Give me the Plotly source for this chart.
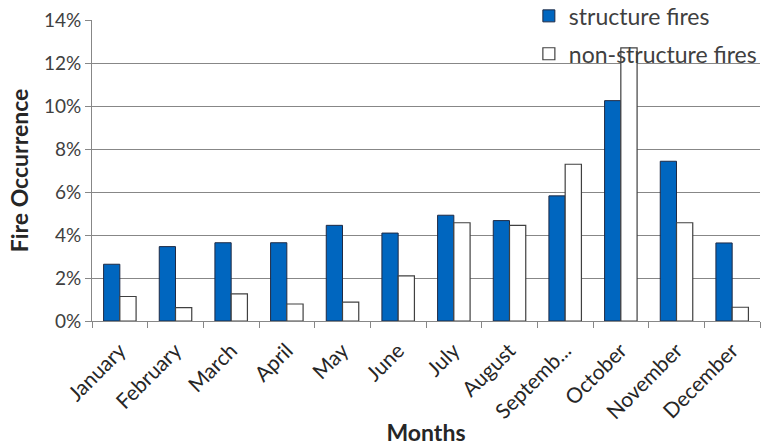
import plotly.graph_objects as go

# Monthly share of fire occurrences
months = ["January", "February", "March", "April", "May", "June", "July",
          "August", "Septemb...", "October", "November", "December"]
structure_fires = [0.0264, 0.0346, 0.0364, 0.0364, 0.0445, 0.0409, 0.0492,
                   0.0467, 0.0582, 0.1025, 0.0743, 0.0363]
non_structure_fires = [0.0114, 0.0062, 0.0126, 0.0079, 0.0088, 0.0210, 0.0457,
                       0.0445, 0.0729, 0.1270, 0.0457, 0.0064]

y_ticks = [0, 0.02, 0.04, 0.06, 0.08, 0.10, 0.12, 0.14]
y_labels = ["0%", "2%", "4%", "6%", "8%", "10%", "12%", "14%"]

FONT = "Lato, Carlito, Calibri, sans-serif"

fig = go.Figure()
fig.add_trace(go.Bar(
    x=months, y=structure_fires, name="structure fires",
    legendgroup="a",
    marker=dict(color="#0066BF", line=dict(color="#1F2A44", width=1)),
))
fig.add_trace(go.Bar(
    x=months, y=non_structure_fires, name="non-structure fires",
    legendgroup="b",
    marker=dict(color="#FFFFFF", line=dict(color="#404040", width=1.2)),
))

fig.update_layout(
    width=762, height=446,
    margin=dict(l=92, r=2, t=20, b=125, autoexpand=False),
    paper_bgcolor="white", plot_bgcolor="white",
    barmode="group", bargap=0.416, bargroupgap=0,
    font=dict(family=FONT, size=19, color="#404040"),
    legend=dict(
        x=0.654, y=1.085, xanchor="left", yanchor="top",
        bgcolor="rgba(0,0,0,0)", traceorder="grouped", tracegroupgap=5,
        font=dict(family=FONT, size=23, color="#404040"),
    ),
    xaxis=dict(
        type="category", tickangle=-45, tickson="boundaries",
        ticks="outside", ticklen=6, tickcolor="#878787",
        ticklabelstandoff=8,
        showline=True, linecolor="#878787", linewidth=1,
        tickfont=dict(size=21, color="#262626"),
        title=dict(text="<b>Months</b>", standoff=2,
                   font=dict(size=23, color="#262626")),
    ),
    yaxis=dict(
        range=[0, 0.14], tickvals=y_ticks, ticktext=y_labels,
        ticks="outside", ticklen=6, tickcolor="#878787",
        showline=True, linecolor="#878787", linewidth=1,
        showgrid=True, gridcolor="#878787", gridwidth=1,
        zeroline=False,
        tickfont=dict(size=19, color="#404040"),
        title=dict(text="<b>Fire Occurrence</b>", standoff=8,
                   font=dict(size=23, color="#262626")),
    ),
)

fig.write_html("out.html")
